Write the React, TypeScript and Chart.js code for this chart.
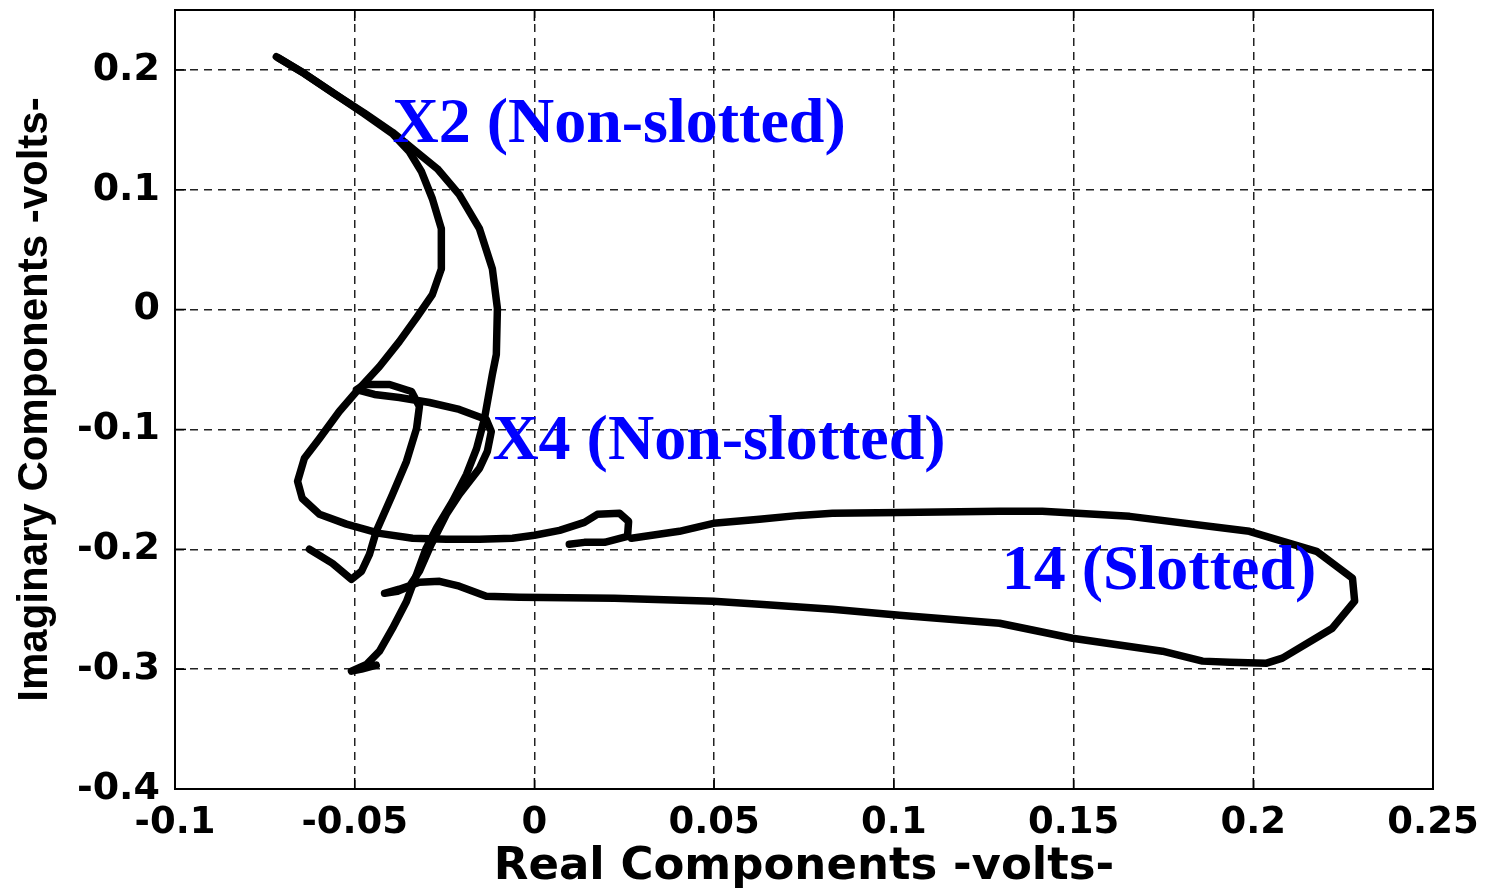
import React, { useEffect, useRef } from "react";
import { Chart, registerables } from "chart.js";

Chart.register(...registerables);

// Impedance-plane trajectories (real vs imaginary components, volts)
const x2Real = [
  -0.0718, -0.064, -0.0556, -0.0473, -0.0395, -0.0334, -0.027, -0.0209, -0.0153, -0.0117,
  -0.0103, -0.0106, -0.0117, -0.0139, -0.0161, -0.0189, -0.0228, -0.0273, -0.0301, -0.0328,
  -0.0356, -0.0395, -0.0431, -0.0467, -0.0509, -0.0481, -0.044,
];
const x2Imag = [
  0.211, 0.197, 0.18, 0.164, 0.148, 0.133, 0.1175, 0.096, 0.0675, 0.034,
  0.001, -0.0375, -0.054, -0.091, -0.116, -0.1375, -0.16, -0.1825, -0.199, -0.221,
  -0.2435, -0.266, -0.285, -0.296, -0.3017, -0.3, -0.2967,
];

const x4Real = [
  -0.0712, -0.064, -0.0556, -0.0473, -0.0395, -0.0348, -0.0314, -0.0284, -0.0259, -0.0259,
  -0.0284, -0.0326, -0.0376, -0.0431, -0.0495, -0.0543, -0.0598, -0.064, -0.0659, -0.0646,
  -0.0598, -0.0523, -0.0431, -0.0339, -0.0245, -0.0153, -0.0061, 0, 0.007, 0.0139,
  0.0175, 0.0237, 0.0262, 0.0259, 0.0195, 0.0139, 0.0097,
];
const x4Imag = [
  0.21, 0.197, 0.18, 0.1633, 0.1467, 0.1317, 0.115, 0.0925, 0.0675, 0.034,
  0.0125, -0.0058, -0.0267, -0.0475, -0.0683, -0.085, -0.1075, -0.124, -0.1433, -0.1575,
  -0.1708, -0.179, -0.1867, -0.1908, -0.1917, -0.1917, -0.1908, -0.1883, -0.1842, -0.1775,
  -0.1708, -0.17, -0.1767, -0.1892, -0.1942, -0.1942, -0.1958,
];

const slottedReal = [
  -0.0626, -0.0562, -0.0509, -0.0481, -0.0459, -0.044, -0.0395, -0.0356, -0.0328, -0.032,
  -0.0342, -0.0403, -0.0473, -0.0495, -0.0445, -0.0376, -0.0292, -0.0209, -0.0134, -0.012,
  -0.0131, -0.0153, -0.0181, -0.0209, -0.0245, -0.0287, -0.032, -0.0348, -0.0381, -0.0417,
  -0.0376, -0.032, -0.0264, -0.0209, -0.0134, -0.0042, 0.0223, 0.0498, 0.0626, 0.0829,
  0.1016, 0.1294, 0.1497, 0.1747, 0.1859, 0.1934, 0.2037, 0.2081, 0.222, 0.2282,
  0.2276, 0.2176, 0.1989, 0.1656, 0.1413, 0.1294, 0.1016, 0.0829, 0.0737, 0.0626,
  0.0498, 0.0403, 0.027,
];
const slottedImag = [
  -0.2, -0.2117, -0.225, -0.2183, -0.2042, -0.185, -0.1542, -0.1267, -0.0992, -0.0808,
  -0.0683, -0.0625, -0.0625, -0.0667, -0.0708, -0.0733, -0.0775, -0.0833, -0.0917, -0.1017,
  -0.1183, -0.1325, -0.1433, -0.1542, -0.1708, -0.1958, -0.2183, -0.2308, -0.235, -0.2367,
  -0.2333, -0.2275, -0.2267, -0.2308, -0.2392, -0.24, -0.2408, -0.2433, -0.2458, -0.25,
  -0.255, -0.2617, -0.2742, -0.285, -0.2933, -0.2942, -0.295, -0.2908, -0.2658, -0.2433,
  -0.2242, -0.2017, -0.185, -0.1725, -0.1683, -0.1683, -0.1692, -0.17, -0.1717, -0.175,
  -0.1783, -0.185, -0.1908,
];

const xTicks = [-0.1, -0.05, 0, 0.05, 0.1, 0.15, 0.2, 0.25];
const yTicks = [-0.4, -0.3, -0.2, -0.1, 0, 0.1, 0.2];

const curveNames = ["X2 (Non-slotted)", "X4 (Non-slotted)", "14 (Slotted)"];
// where each curve's name is written (data coordinates of the text's left baseline)
const nameAnchorReal = [-0.0395, -0.0117, 0.13];
const nameAnchorImag = [0.14, -0.125, -0.2333];

const toPoints = (xs: number[], ys: number[]) => xs.map((x, i) => ({ x, y: ys[i] }));

const fmt = (v: number) => String(Number(v.toFixed(2)));

const framePlugin = {
  id: "frame",
  afterDraw(chart: any) {
    const { ctx, chartArea: a, scales } = chart;
    ctx.save();
    ctx.strokeStyle = "#000";
    ctx.lineWidth = 2;
    ctx.strokeRect(a.left, a.top, a.right - a.left, a.bottom - a.top);
    ctx.lineWidth = 1.5;
    ctx.beginPath();
    const len = 11;
    xTicks.forEach((v) => {
      const px = scales.x.getPixelForValue(v);
      ctx.moveTo(px, a.bottom);
      ctx.lineTo(px, a.bottom - len);
      ctx.moveTo(px, a.top);
      ctx.lineTo(px, a.top + len);
    });
    yTicks.forEach((v) => {
      const py = scales.y.getPixelForValue(v);
      ctx.moveTo(a.left, py);
      ctx.lineTo(a.left + len, py);
      ctx.moveTo(a.right, py);
      ctx.lineTo(a.right - len, py);
    });
    ctx.stroke();
    ctx.restore();
  },
};

const namePlugin = {
  id: "curveNames",
  afterDatasetsDraw(chart: any) {
    const { ctx, scales } = chart;
    ctx.save();
    ctx.fillStyle = "#0000ff";
    ctx.font = "bold 64px 'Liberation Serif', 'Times New Roman', serif";
    ctx.textAlign = "left";
    ctx.textBaseline = "alphabetic";
    curveNames.forEach((t, i) => {
      ctx.fillText(
        t,
        scales.x.getPixelForValue(nameAnchorReal[i]),
        scales.y.getPixelForValue(nameAnchorImag[i])
      );
    });
    ctx.restore();
  },
};

export default function App() {
  const ref = useRef<HTMLCanvasElement | null>(null);

  useEffect(() => {
    if (!ref.current) return;
    const line = (label: string, xs: number[], ys: number[]) => ({
      label,
      data: toPoints(xs, ys),
      showLine: true,
      borderColor: "#000",
      backgroundColor: "#000",
      borderWidth: 7.5,
      pointRadius: 0,
      borderJoinStyle: "round" as const,
      borderCapStyle: "round" as const,
      tension: 0,
    });
    const chart = new Chart(ref.current, {
      type: "scatter",
      data: {
        datasets: [
          line(curveNames[0], x2Real, x2Imag),
          line(curveNames[1], x4Real, x4Imag),
          line(curveNames[2], slottedReal, slottedImag),
        ],
      },
      options: {
        animation: false,
        responsive: false,
        devicePixelRatio: 1,
        layout: { padding: { top: 10, right: 56, left: 0, bottom: 0 } },
        plugins: { legend: { display: false }, tooltip: { enabled: false } },
        scales: {
          x: {
            type: "linear",
            min: -0.1,
            max: 0.25,
            afterBuildTicks: (s: any) => {
              s.ticks = xTicks.map((value) => ({ value }));
            },
            afterFit: (s: any) => {
              s.height = 101;
              s.paddingLeft = 0;
              s.paddingRight = 0;
            },
            grid: { color: "#222", lineWidth: 1.5, drawTicks: false },
            border: { display: true, color: "#000", width: 2, dash: [8, 6] },
            ticks: {
              color: "#000",
              padding: 12,
              maxRotation: 0,
              font: { family: "'DejaVu Sans', sans-serif", size: 37, weight: "bold" },
              callback: (v: any) => fmt(Number(v)),
            },
            title: {
              display: true,
              text: "Real Components -volts-",
              color: "#000",
              font: { family: "'DejaVu Sans', sans-serif", size: 45, weight: "bold", lineHeight: 1 },
              padding: { top: 0, bottom: 0 },
            },
          },
          y: {
            type: "linear",
            min: -0.4,
            max: 0.25,
            afterBuildTicks: (s: any) => {
              s.ticks = yTicks.map((value) => ({ value }));
            },
            afterFit: (s: any) => {
              s.width = 175;
              s.paddingTop = 0;
              s.paddingBottom = 0;
            },
            grid: { color: "#222", lineWidth: 1.5, drawTicks: false },
            border: { display: true, color: "#000", width: 2, dash: [8, 6] },
            ticks: {
              color: "#000",
              padding: 15,
              font: { family: "'DejaVu Sans', sans-serif", size: 38, weight: "bold" },
              callback: (v: any) => fmt(Number(v)),
            },
            title: {
              display: true,
              text: "Imaginary Components -volts-",
              color: "#000",
              font: {
                family: "'Liberation Sans', Arial, sans-serif",
                size: 42,
                weight: "bold",
                lineHeight: 1,
              },
              padding: { top: 14, bottom: 0 },
            },
          },
        },
      },
      plugins: [framePlugin, namePlugin],
    });
    return () => chart.destroy();
  }, []);

  return (
    <div style={{ position: "fixed", left: 0, top: 0, width: 1489, height: 890, background: "#fff" }}>
      <canvas ref={ref} width={1489} height={890} />
    </div>
  );
}
